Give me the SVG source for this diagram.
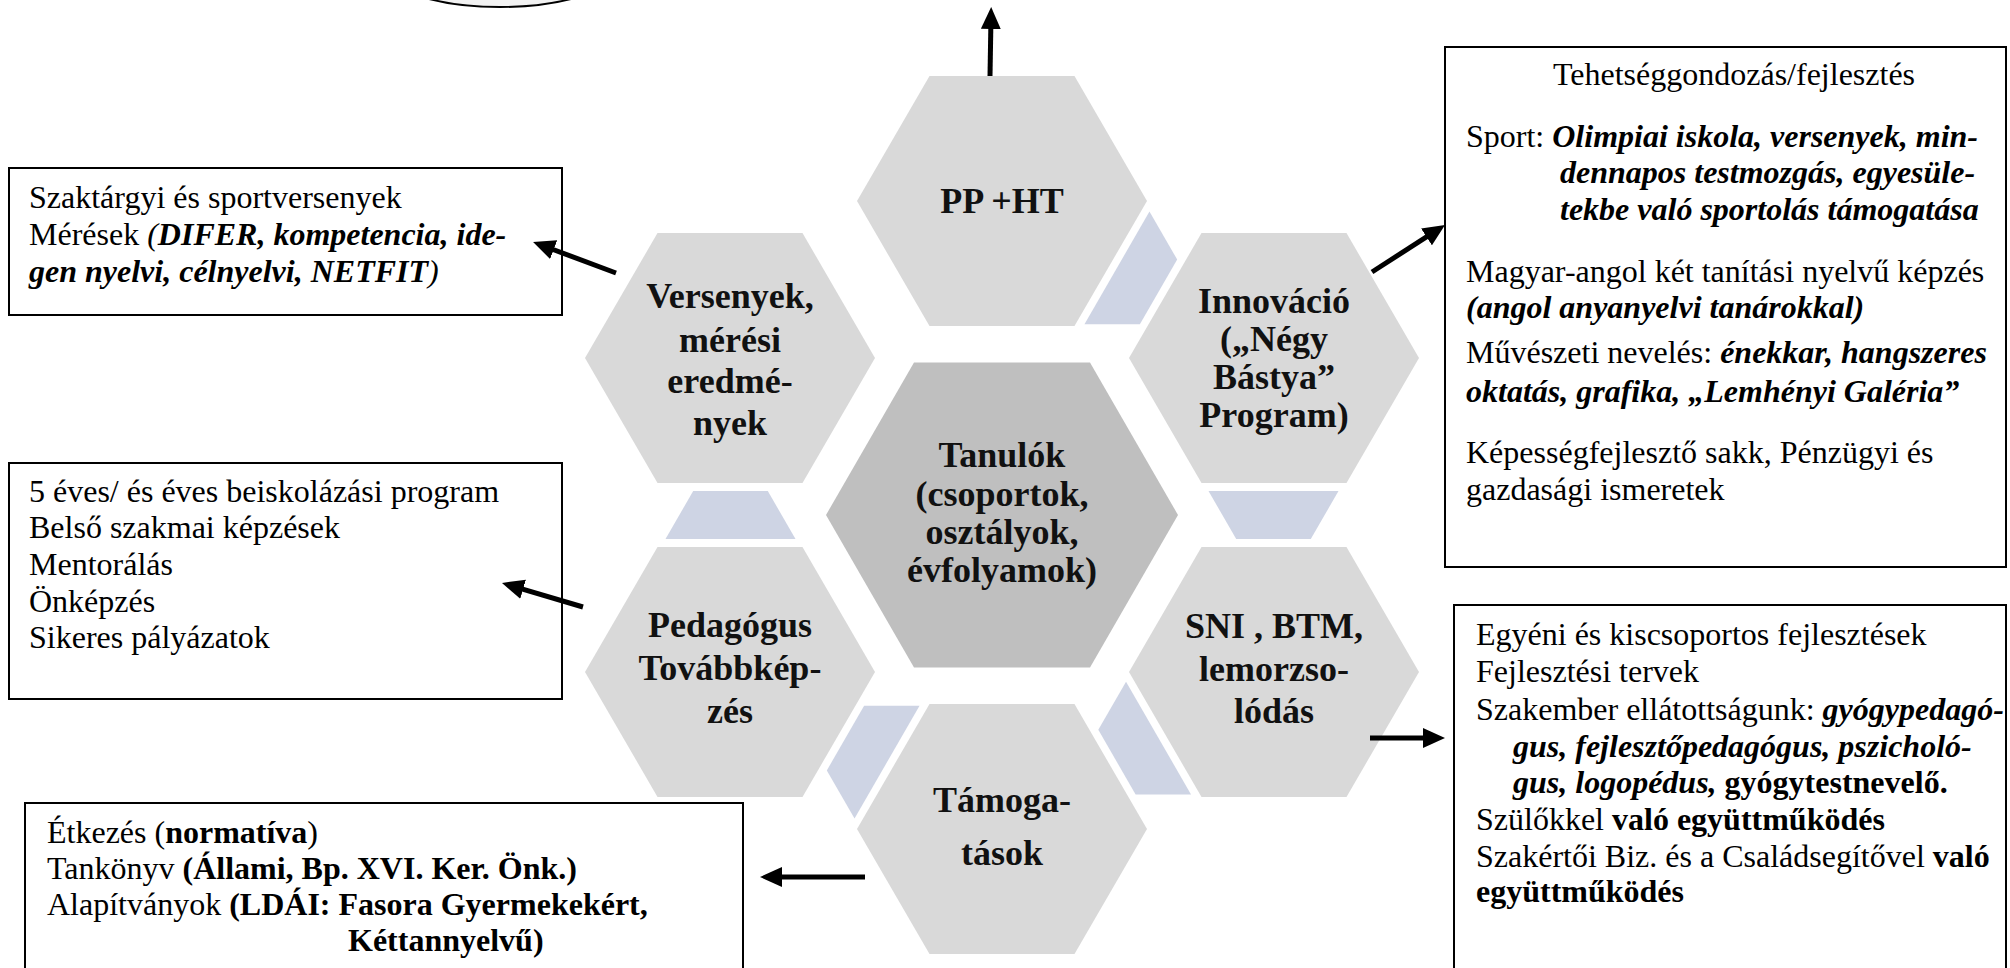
<svg xmlns="http://www.w3.org/2000/svg" xmlns:xlink="http://www.w3.org/1999/xlink" width="2010" height="968" viewBox="0 0 2010 968">
<style>
.box{fill:#fff;stroke:#000;stroke-width:2}
.t{font-family:"Liberation Serif","Times New Roman",serif;font-size:32px;fill:#000}
.b{font-weight:bold}
.i{font-style:italic}
.bi{font-weight:bold;font-style:italic}
.hex{fill:#D9D9D9}
.hexc{fill:#BFBFBF}
.hl{font-family:"Liberation Serif","Times New Roman",serif;font-size:36px;font-weight:bold;fill:#111;text-anchor:middle}
.conn{fill:#CED4E4}
.arr{stroke:#000;stroke-width:5;fill:none;marker-end:url(#ah)}
</style>
<defs>
<marker id="ah" markerUnits="userSpaceOnUse" viewBox="0 0 22 20" markerWidth="22" markerHeight="20" refX="12" refY="10" orient="auto">
<path d="M0,0 L22,10 L0,20 z" fill="#000"/>
</marker>
<polygon id="cn" points="1208.5,491 1338.5,491 1310.8,539 1236.2,539"/>
</defs>
<rect width="2010" height="968" fill="#fff"/>
<ellipse id="top-ellipse" cx="500" cy="-43" rx="130" ry="50" fill="#F2F2F2" stroke="#000" stroke-width="2"/>

<g id="connectors-ring" class="conn">
<use xlink:href="#cn" href="#cn" transform="rotate(-60 1002 515)"/>
<use xlink:href="#cn" href="#cn"/>
<use xlink:href="#cn" href="#cn" transform="rotate(60 1002 515)"/>
<use xlink:href="#cn" href="#cn" transform="rotate(120 1002 515)"/>
<use xlink:href="#cn" href="#cn" transform="rotate(180 1002 515)"/>
</g>

<g id="node-pp">
<polygon class="hex" points="857,201 929.5,76 1074.5,76 1147,201 1074.5,326 929.5,326"/>
<text class="hl" x="1002" y="213">PP +HT</text>
</g>
<g id="node-innovacio">
<polygon class="hex" points="1129,358 1201.5,233 1346.5,233 1419,358 1346.5,483 1201.5,483"/>
<text class="hl" x="1274" y="313">Innováció</text>
<text class="hl" x="1274" y="351">(„Négy</text>
<text class="hl" x="1274" y="389">Bástya”</text>
<text class="hl" x="1274" y="427">Program)</text>
</g>
<g id="node-sni">
<polygon class="hex" points="1129,672 1201.5,547 1346.5,547 1419,672 1346.5,797 1201.5,797"/>
<text class="hl" x="1274" y="638">SNI , BTM,</text>
<text class="hl" x="1274" y="681">lemorzso-</text>
<text class="hl" x="1274" y="723">lódás</text>
</g>
<g id="node-tamogatasok">
<polygon class="hex" points="857,829 929.5,704 1074.5,704 1147,829 1074.5,954 929.5,954"/>
<text class="hl" x="1002" y="812">Támoga-</text>
<text class="hl" x="1002" y="865">tások</text>
</g>
<g id="node-pedagogus">
<polygon class="hex" points="585,672 657.5,547 802.5,547 875,672 802.5,797 657.5,797"/>
<text class="hl" x="730" y="637">Pedagógus</text>
<text class="hl" x="730" y="680">Továbbkép-</text>
<text class="hl" x="730" y="723">zés</text>
</g>
<g id="node-versenyek">
<polygon class="hex" points="585,358 657.5,233 802.5,233 875,358 802.5,483 657.5,483"/>
<text class="hl" x="730" y="308">Versenyek,</text>
<text class="hl" x="730" y="352">mérési</text>
<text class="hl" x="730" y="393">eredmé-</text>
<text class="hl" x="730" y="435">nyek</text>
</g>
<g id="node-tanulok">
<polygon class="hexc" points="826,515 914,362.6 1090,362.6 1178,515 1090,667.4 914,667.4"/>
<text class="hl" x="1002" y="467">Tanulók</text>
<text class="hl" x="1002" y="506">(csoportok,</text>
<text class="hl" x="1002" y="544">osztályok,</text>
<text class="hl" x="1002" y="582">évfolyamok)</text>
</g>

<g id="box-versenyek">
<rect class="box" x="9" y="168" width="553" height="147"/>
<text class="t" x="29" y="208">Szaktárgyi és sportversenyek</text>
<text class="t" x="29" y="245">Mérések <tspan class="i">(</tspan><tspan class="bi">DIFER, kompetencia, ide-</tspan></text>
<text class="t" x="29" y="282"><tspan class="bi">gen nyelvi, célnyelvi, NETFIT</tspan><tspan class="i">)</tspan></text>
</g>
<g id="box-pedagogus">
<rect class="box" x="9" y="463" width="553" height="236"/>
<text class="t" x="29" y="502">5 éves/ és éves beiskolázási program</text>
<text class="t" x="29" y="538">Belső szakmai képzések</text>
<text class="t" x="29" y="575">Mentorálás</text>
<text class="t" x="29" y="612">Önképzés</text>
<text class="t" x="29" y="648">Sikeres pályázatok</text>
</g>
<g id="box-tamogatasok">
<rect class="box" x="25" y="803" width="718" height="175"/>
<text class="t" x="47" y="843">Étkezés (<tspan class="b">normatíva</tspan>)</text>
<text class="t" x="47" y="879">Tankönyv <tspan class="b">(Állami, Bp. XVI. Ker. Önk.)</tspan></text>
<text class="t" x="47" y="915">Alapítványok <tspan class="b">(LDÁI: Fasora Gyermekekért,</tspan></text>
<text class="t b" x="348" y="951">Kéttannyelvű)</text>
</g>
<g id="box-tehetseg">
<rect class="box" x="1445" y="47" width="561" height="520"/>
<text class="t" x="1734" y="85" text-anchor="middle">Tehetséggondozás/fejlesztés</text>
<text class="t" x="1466" y="147">Sport: <tspan class="bi">Olimpiai iskola, versenyek, min-</tspan></text>
<text class="t bi" x="1560" y="183">dennapos testmozgás, egyesüle-</text>
<text class="t bi" x="1560" y="220">tekbe való sportolás támogatása</text>
<text class="t" x="1466" y="282">Magyar-angol két tanítási nyelvű képzés</text>
<text class="t bi" x="1466" y="318">(angol anyanyelvi tanárokkal)</text>
<text class="t" x="1466" y="363">Művészeti nevelés: <tspan class="bi">énekkar, hangszeres</tspan></text>
<text class="t bi" x="1466" y="402">oktatás, grafika, „Lemhényi Galéria”</text>
<text class="t" x="1466" y="463">Képességfejlesztő sakk, Pénzügyi és</text>
<text class="t" x="1466" y="500">gazdasági ismeretek</text>
</g>
<g id="box-sni">
<rect class="box" x="1454" y="605" width="552" height="375"/>
<text class="t" x="1476" y="645">Egyéni és kiscsoportos fejlesztések</text>
<text class="t" x="1476" y="682">Fejlesztési tervek</text>
<text class="t" x="1476" y="720">Szakember ellátottságunk: <tspan class="bi">gyógypedagó-</tspan></text>
<text class="t bi" x="1513" y="757">gus, fejlesztőpedagógus, pszicholó-</text>
<text class="t" x="1513" y="793"><tspan class="bi">gus, logopédus,</tspan> <tspan class="b">gyógytestnevelő.</tspan></text>
<text class="t" x="1476" y="830">Szülőkkel <tspan class="b">való együttműködés</tspan></text>
<text class="t" x="1476" y="867">Szakértői Biz. és a Családsegítővel <tspan class="b">való</tspan></text>
<text class="t b" x="1476" y="902">együttműködés</text>
</g>

<g id="connectors">
<line class="arr" x1="990" y1="76" x2="991" y2="17"/>
<line class="arr" x1="616" y1="273" x2="542.4" y2="245.5"/>
<line class="arr" x1="1372" y1="272" x2="1436.6" y2="230.4"/>
<line class="arr" x1="583" y1="607" x2="511.6" y2="585.8"/>
<line class="arr" x1="1370" y1="738" x2="1435" y2="738"/>
<line class="arr" x1="865" y1="877" x2="770" y2="877"/>
</g>
</svg>
